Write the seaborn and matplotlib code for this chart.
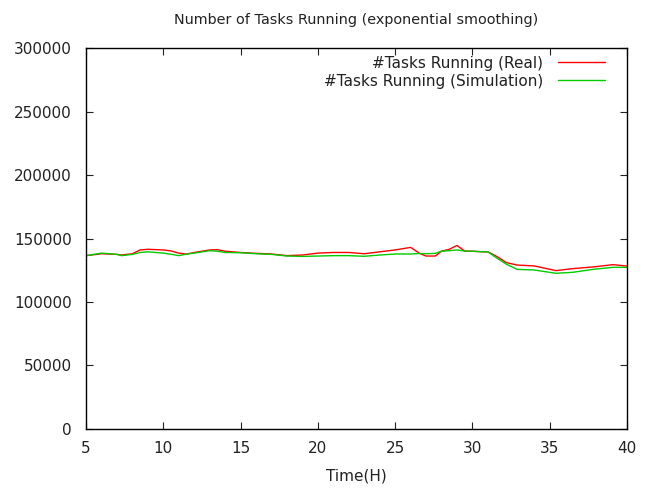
import pandas as pd
import seaborn as sns
import matplotlib.pyplot as plt

# Time in hours, shared by both series
hours = [5, 6, 7, 7.3, 8, 8.5, 9, 10, 10.5, 11, 11.5, 12, 13, 13.5, 14, 15, 16, 17,
         18, 19, 20, 21, 22, 23, 24, 25, 26, 26.6, 27, 27.6, 28, 28.5, 29, 29.5,
         30, 30.7, 31, 31.6, 32.2, 32.9, 34, 35.4, 36.5, 37.8, 39.1, 40]

# #tasks running, in thousands
real_k = [136.5, 138, 137.5, 137, 138, 141, 141.5, 141, 140.2, 138.5, 137.7, 139,
          141, 141.2, 140, 139, 138.3, 137.8, 136.5, 137, 138.5, 139, 139, 138,
          139.5, 141, 143, 138.2, 136.2, 136.2, 140, 141.5, 144.5, 140.1, 140,
          139.5, 139.5, 135.7, 131, 129.1, 128.4, 124.7, 126.3, 127.6, 129.4, 128.3]
sim_k = [136.5, 138.5, 137.5, 136.5, 137.5, 139, 139.5, 138.5, 137.6, 136.5, 137.7,
         138.5, 140.4, 140, 139, 138.8, 138, 137.5, 136.2, 135.9, 136.2, 136.5,
         136.5, 136, 137, 137.8, 137.8, 138.2, 138, 138.3, 140, 140.4, 141, 140.1,
         140, 139.5, 139.5, 134.4, 129.7, 125.7, 125.2, 122.6, 123.4, 125.7, 127.3, 127.3]

series_names = ["#Tasks Running (Real)", "#Tasks Running (Simulation)"]
x_ticks = [5, 10, 15, 20, 25, 30, 35, 40]
y_ticks = [0, 50000, 100000, 150000, 200000, 250000, 300000]

df = pd.concat([
    pd.DataFrame({"Time(H)": hours, "tasks": [v * 1000 for v in real_k], "series": series_names[0]}),
    pd.DataFrame({"Time(H)": hours, "tasks": [v * 1000 for v in sim_k], "series": series_names[1]}),
])

sns.set_style("ticks")
plt.rcParams['font.family'] = ['DejaVu Sans']

fig = plt.figure(figsize=(6.48, 4.90), dpi=100)
ax = fig.add_axes([0.1327, 0.1245, 0.8349, 0.7775])

sns.lineplot(data=df, x="Time(H)", y="tasks", hue="series",
             palette={series_names[0]: "#ff0000", series_names[1]: "#00cc00"},
             linewidth=1.0, ax=ax)

ax.set_xlim(5, 40)
ax.set_ylim(0, 300000)
ax.set_xticks(x_ticks)
ax.set_yticks(y_ticks)
ax.set_xticklabels([str(t) for t in x_ticks])
ax.set_yticklabels([str(t) for t in y_ticks])
ax.tick_params(direction="in", top=True, right=True, length=5, width=0.8,
               labelsize=11, pad=10, colors="#222222")
ax.tick_params(axis="x", pad=9)
for s in ax.spines.values():
    s.set_linewidth(1.0)
    s.set_color("black")
ax.set_xlabel("Time(H)", fontsize=11, labelpad=9, color="#222222")
ax.set_ylabel("")
ax.set_title("Number of Tasks Running (exponential smoothing)", fontsize=10.4,
             pad=17, color="#222222")

leg = ax.legend(loc="upper right", frameon=False, markerfirst=False, fontsize=11,
                handlelength=3.07, handletextpad=1.0, labelspacing=0.2,
                bbox_to_anchor=(0.985, 1.016), title=None)
for text in leg.get_texts():
    text.set_color("#222222")
for line in leg.get_lines():
    line.set_linewidth(1.0)

fig.savefig("out.png", dpi=100)
